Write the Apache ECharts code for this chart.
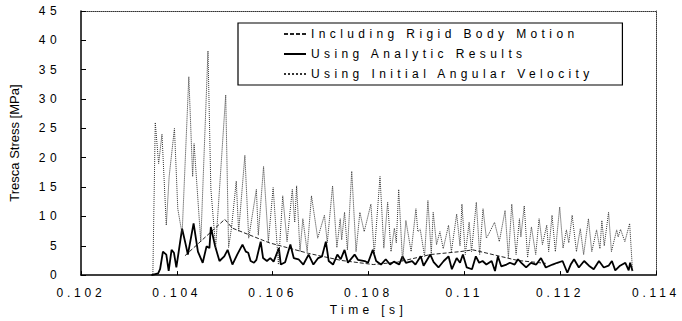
<!DOCTYPE html>
<html>
<head>
<meta charset="utf-8">
<script src="https://cdn.jsdelivr.net/npm/echarts@6/dist/echarts.min.js"></script>
<style>
html, body { margin: 0; padding: 0; background: #fff; }
#chart { width: 682px; height: 321px; }
#chart text { letter-spacing: 4.4px; }
</style>
</head>
<body>
<div id="chart"></div>
<script>
// series names
var names = ['Including Rigid Body Motion', 'Using Analytic Results', 'Using Initial Angular Velocity'];

// Including Rigid Body Motion (coarse curve)
var rigidT = [0.10417, 0.10500, 0.10516, 0.10593, 0.10675, 0.10743, 0.10810, 0.10860, 0.10929, 0.10991, 0.11018, 0.11111, 0.11170];
var rigidV = [3.3, 9.5, 8, 5.5, 3.7, 2.5, 1.8, 2.2, 3.5, 4, 4.3, 2.5, 2.0];

// Using Analytic Results
var analyticT = [0.10347, 0.10361, 0.10365, 0.10371, 0.10378, 0.10383, 0.10389, 0.10394, 0.10399, 0.10411,
    0.10418, 0.10423, 0.10435, 0.10444, 0.10454, 0.10462, 0.10468, 0.10471, 0.10480, 0.10489,
    0.10499, 0.10506, 0.10516, 0.10526, 0.10537, 0.10544, 0.10549, 0.10554, 0.10561, 0.10566,
    0.10575, 0.10580, 0.10588, 0.10595, 0.10602, 0.10613, 0.10617, 0.10626, 0.10637, 0.10644,
    0.10654, 0.10664, 0.10675, 0.10685, 0.10695, 0.10703, 0.10711, 0.10717, 0.10726, 0.10735,
    0.10742, 0.10750, 0.10757, 0.10771, 0.10778, 0.10792, 0.10799, 0.10809, 0.10816, 0.10826,
    0.10836, 0.10845, 0.10853, 0.10864, 0.10871, 0.10878, 0.10891, 0.10898, 0.10909, 0.10915,
    0.10929, 0.10936, 0.10946, 0.10957, 0.10967, 0.10974, 0.10984, 0.10991, 0.10997, 0.11005,
    0.11016, 0.11024, 0.11031, 0.11038, 0.11046, 0.11057, 0.11064, 0.11070, 0.11077, 0.11088,
    0.11095, 0.11105, 0.11112, 0.11119, 0.11129, 0.11139, 0.11150, 0.11160, 0.11170, 0.11184,
    0.11194, 0.11205, 0.11215, 0.11222, 0.11229, 0.11239, 0.11250, 0.11260, 0.11270, 0.11281,
    0.11291, 0.11301, 0.11308, 0.11315, 0.11325, 0.11336, 0.11343, 0.11346, 0.11351];
var analyticV = [0, 0.3, 1, 4, 3.5, 0.7, 4.3, 3.8, 1.3, 7.9,
    5.4, 3.5, 8.8, 4, 2.1, 4.9, 4.6, 8.2, 4.9, 2.4,
    3.2, 4.3, 1.8, 3.5, 5.2, 4, 3.8, 2.4, 2.1, 2.6,
    5.7, 2.9, 2.4, 2.9, 2.3, 4.6, 1.8, 2.2, 5.2, 2.9,
    2.7, 1.8, 3.5, 1.8, 2.9, 3.2, 5.7, 2.4, 1.8, 3.5,
    2.7, 4.3, 2.1, 3.5, 2.6, 2.4, 2.1, 4.3, 2.4, 1.8,
    2.7, 1.8, 2.3, 1.8, 3.2, 2.1, 2.4, 1.8, 3.2, 1.6,
    3.5, 2.2, 1.3, 2.4, 3.2, 1, 2.9, 2.1, 3.5, 1.3,
    1.0, 3.2, 2.1, 2.4, 1.8, 2.4, 0.7, 3.2, 1.5, 1.8,
    2.1, 1.8, 2.7, 2.1, 1.3, 2.1, 1.8, 2.9, 1.3, 1.8,
    2.1, 2.4, 0.4, 1.8, 2.7, 1.3, 2.4, 1.6, 1.0, 2.4,
    1.3, 1.6, 2.4, 0.8, 1.6, 2.1, 0.8, 2.1, 0.7];

// Using Initial Angular Velocity
var initialT = [0.10350, 0.10355, 0.10362, 0.10369, 0.10378, 0.10384, 0.10395, 0.10402, 0.10411, 0.10425,
    0.10433, 0.10436, 0.10450, 0.10465, 0.10471, 0.10481, 0.10502, 0.10508, 0.10514, 0.10524,
    0.10529, 0.10542, 0.10550, 0.10566, 0.10570, 0.10581, 0.10591, 0.10601, 0.10612, 0.10621,
    0.10630, 0.10641, 0.10646, 0.10650, 0.10657, 0.10663, 0.10672, 0.10681, 0.10694, 0.10708,
    0.10714, 0.10725, 0.10734, 0.10741, 0.10744, 0.10750, 0.10756, 0.10765, 0.10774, 0.10782,
    0.10791, 0.10805, 0.10812, 0.10824, 0.10832, 0.10840, 0.10847, 0.10854, 0.10858, 0.10863,
    0.10871, 0.10878, 0.10889, 0.10899, 0.10903, 0.10908, 0.10917, 0.10924, 0.10931, 0.10935,
    0.10942, 0.10949, 0.10956, 0.10967, 0.10973, 0.10984, 0.10991, 0.10995, 0.11002, 0.11010,
    0.11015, 0.11025, 0.11032, 0.11039, 0.11046, 0.11051, 0.11063, 0.11073, 0.11085, 0.11092,
    0.11099, 0.11108, 0.11115, 0.11118, 0.11125, 0.11132, 0.11140, 0.11149, 0.11156, 0.11163,
    0.11172, 0.11176, 0.11183, 0.11190, 0.11199, 0.11206, 0.11213, 0.11218, 0.11225, 0.11234,
    0.11242, 0.11249, 0.11259, 0.11266, 0.11276, 0.11283, 0.11287, 0.11292, 0.11301, 0.11307,
    0.11318, 0.11321, 0.11326, 0.11335, 0.11345, 0.11351];
var initialV = [0.2, 26, 19, 24, 8.5, 16.8, 25, 11.3, 7, 33.8,
    16.8, 22.4, 5.7, 38.2, 14.7, 4.7, 30.7, 4.7, 8, 16,
    7.4, 20.4, 6.3, 14.6, 6.8, 18.5, 5.7, 14.9, 1.8, 13.5,
    5.7, 14.6, 9, 15.2, 4, 9.6, 4, 13.5, 6.3, 10.2,
    5.5, 15.2, 4.7, 9.6, 6, 10.7, 4.3, 17.7, 4, 10.7,
    7.4, 12.1, 3.5, 16.8, 4.6, 12.4, 4, 8, 5.5, 14.6,
    2.4, 9.3, 4, 11.3, 7.4, 7.8, 3.2, 12.7, 3.5, 10.7,
    5.2, 7.4, 4.5, 8.5, 4, 10.4, 5, 12.1, 3.5, 9,
    4, 12.4, 3.5, 11.3, 6.3, 7, 9, 5.7, 11, 3,
    12.1, 3.5, 9.6, 6.5, 11.8, 3, 8.2, 3.5, 9.6, 5.2,
    8.5, 4, 10.2, 4, 11.6, 4.6, 7.7, 5.5, 10.2, 4,
    7.9, 3.5, 9.6, 4, 7.7, 4.5, 9.3, 5, 10.7, 4,
    7.7, 6.5, 7.8, 5.7, 8.8, 0.7];

function pairs(t, v) {
    return t.map(function (x, i) { return [x, v[i]]; });
}

var chart = echarts.init(document.getElementById('chart'), null, { renderer: 'svg' });
var font = 'Liberation Sans, Arial, sans-serif';

var option = {
    animation: false,
    backgroundColor: '#fff',
    textStyle: { fontFamily: font },
    grid: { left: 77, right: 26, top: 11, bottom: 40, containLabel: false },
    legend: {
        orient: 'vertical',
        left: 238,
        top: 23,
        padding: [5, 160, 5, 45],
        itemGap: 8,
        itemWidth: 22,
        itemHeight: 12,
        borderColor: '#000',
        borderWidth: 1.2,
        itemStyle: { opacity: 0 },
        textStyle: { fontSize: 12, color: '#000', fontFamily: font },
        data: names
    },
    xAxis: [{
        type: 'value',
        min: 0.102,
        max: 0.114,
        interval: 0.002,
        name: 'Time [s]',
        nameLocation: 'middle',
        nameGap: 26,
        nameTextStyle: { fontSize: 12, color: '#000' },
        axisLine: { show: true, onZero: false, lineStyle: { color: '#000', width: 1.5 } },
        axisTick: { show: true, inside: true, length: 4, lineStyle: { color: '#000' } },
        axisLabel: { fontSize: 12, color: '#000', margin: 12 },
        splitLine: { show: false }
    }, {
        type: 'value',
        position: 'top',
        min: 0.102,
        max: 0.114,
        axisLine: { show: true, onZero: false, lineStyle: { color: '#333', width: 1, type: 'dotted' } },
        axisTick: { show: false },
        axisLabel: { show: false },
        splitLine: { show: false }
    }],
    yAxis: [{
        type: 'value',
        min: 0,
        max: 45,
        interval: 5,
        name: 'Tresca Stress [MPa]',
        nameLocation: 'middle',
        nameGap: 60,
        nameTextStyle: { fontSize: 13, color: '#000' },
        axisLine: { show: true, onZero: false, lineStyle: { color: '#000', width: 1.5 } },
        axisTick: { show: true, inside: true, length: 5, lineStyle: { color: '#000' } },
        axisLabel: { fontSize: 12, color: '#000', margin: 20 },
        splitLine: { show: false }
    }, {
        type: 'value',
        position: 'right',
        min: 0,
        max: 45,
        axisLine: { show: true, onZero: false, lineStyle: { color: '#333', width: 1, type: 'dotted' } },
        axisTick: { show: false },
        axisLabel: { show: false },
        splitLine: { show: false }
    }],
    series: [{
        name: names[0],
        type: 'line',
        symbol: 'none',
        data: pairs(rigidT, rigidV),
        lineStyle: { color: '#222', width: 1, type: [4, 2] },
        itemStyle: { color: '#222' }
    }, {
        name: names[1],
        type: 'line',
        symbol: 'none',
        data: pairs(analyticT, analyticV),
        lineStyle: { color: '#000', width: 1.8 },
        itemStyle: { color: '#000' }
    }, {
        name: names[2],
        type: 'line',
        symbol: 'none',
        data: pairs(initialT, initialV),
        lineStyle: { color: '#333', width: 1, type: 'dotted' },
        itemStyle: { color: '#333' }
    }]
};

chart.setOption(option);

// the y axis title is not letter-spaced in the original; x tick labels a bit tighter
document.querySelectorAll('#chart text').forEach(function (el) {
    var s = el.textContent;
    if (s.indexOf('Tresca') === 0) {
        el.style.letterSpacing = '0px';
    } else if (s.indexOf('0.') === 0) {
        el.style.letterSpacing = '3.8px';
    }
});
</script>
</body>
</html>
